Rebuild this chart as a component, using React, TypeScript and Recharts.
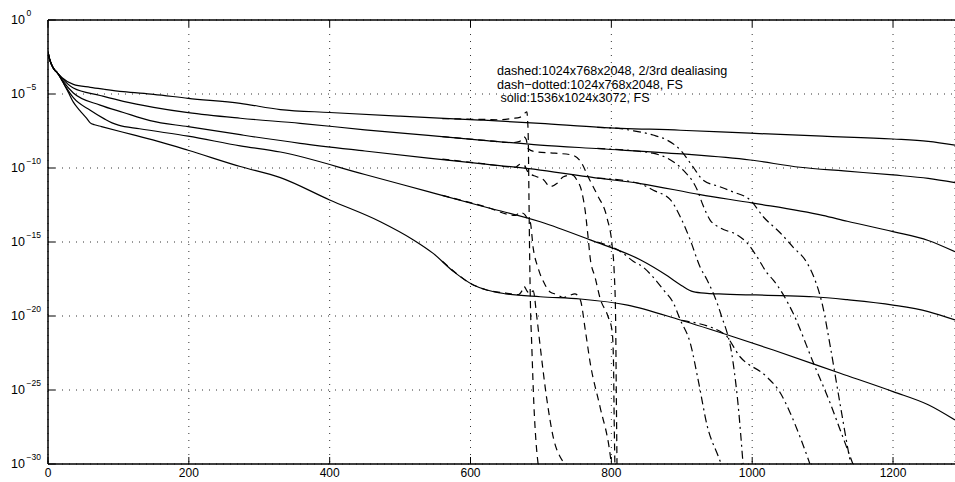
import { LineChart, Line, XAxis, YAxis, CartesianGrid, ReferenceLine } from 'recharts';

// x = wavenumber, y = log10 of the spectrum value
type Pt = [number, number];

const xTicks = [0, 200, 400, 600, 800, 1000, 1200];
const yTicks = [-30, -25, -20, -15, -10, -5, 0];

const legendLines = [
    'dashed:1024x768x2048, 2/3rd dealiasing',
    'dash\u2212dotted:1024x768x2048, FS',
    ' solid:1536x1024x3072, FS',
];

// solid: 1536x1024x3072, FS
const solidA: Pt[] = [
    [0, -2.15], [2, -2.6], [5, -3.0], [9, -3.35], [13, -3.55], [20, -3.9], [36, -4.35], [60, -4.55],
    [80, -4.68], [107, -4.84], [150, -5.02], [199, -5.29], [273, -5.63], [330, -6.05], [400, -6.25],
    [500, -6.5], [614, -6.76], [699, -6.98], [784, -7.25], [898, -7.45], [997, -7.65], [1100, -7.85],
    [1200, -8.04], [1250, -8.2], [1288, -8.45],
];
const solidB: Pt[] = [
    [0, -2.15], [2, -2.6], [5, -3.0], [9, -3.35], [13, -3.55], [20, -3.95], [36, -4.6], [74, -5.1],
    [107, -5.5], [150, -5.9], [199, -6.26], [273, -6.64], [358, -6.98], [450, -7.42], [540, -7.8],
    [614, -8.11], [699, -8.45], [784, -8.7], [900, -9.05], [997, -9.46], [1068, -9.95], [1130, -10.2],
    [1200, -10.47], [1250, -10.7], [1288, -10.99],
];
const solidC: Pt[] = [
    [0, -2.15], [2, -2.6], [5, -3.0], [9, -3.35], [13, -3.55], [20, -4.05], [36, -4.93], [74, -5.75],
    [107, -6.25], [145, -6.8], [199, -7.21], [273, -7.75], [358, -8.33], [450, -8.85], [540, -9.33],
    [614, -9.7], [699, -10.14], [784, -10.7], [841, -11.05], [926, -11.8], [1001, -12.37], [1100, -13.2],
    [1135, -13.6], [1200, -14.3], [1250, -14.9], [1288, -15.66],
];
const solidD: Pt[] = [
    [0, -2.15], [2, -2.6], [5, -3.0], [9, -3.35], [13, -3.55], [25, -4.5], [36, -5.25], [60, -6.1],
    [80, -6.68], [91, -6.95], [100, -7.1], [130, -7.35], [199, -7.85], [273, -8.5], [330, -8.92],
    [450, -10.44], [540, -11.6], [614, -12.55], [699, -13.63], [770, -14.86], [841, -16.2], [880, -17.3],
    [900, -17.95], [916, -18.35], [936, -18.47], [960, -18.52], [1040, -18.62], [1087, -18.7],
    [1135, -18.9], [1200, -19.26], [1250, -19.7], [1288, -20.27],
];
const solidE: Pt[] = [
    [0, -2.15], [2, -2.6], [5, -3.0], [9, -3.35], [13, -3.55], [20, -4.1], [29, -4.9], [36, -5.55],
    [45, -6.1], [55, -6.65], [60, -6.95], [66, -7.08], [76, -7.2], [120, -7.75], [160, -8.25],
    [199, -8.8], [273, -9.9], [330, -10.65], [400, -12.16], [472, -13.63], [519, -14.86], [547, -15.77],
    [576, -17.0], [604, -17.9], [623, -18.24], [650, -18.5], [699, -18.7], [756, -18.85], [823, -19.26],
    [898, -20.27], [973, -21.4], [1030, -22.3], [1125, -23.87], [1200, -25.11], [1250, -26.0], [1288, -27.03],
];

// dashed: 1024x768x2048, 2/3rd dealiasing
const dashedA: Pt[] = [
    [560, -6.66], [620, -6.72], [642, -6.74], [660, -6.65], [670, -6.58], [677, -6.3], [680, -6.2],
    [681, -6.7], [682, -8], [683, -12], [684, -16], [685, -19], [687, -22], [690, -26], [693, -28.5], [696, -30],
];
const dashedB: Pt[] = [
    [560, -7.88], [620, -8.13], [660, -8.28], [670, -8.2], [676, -7.9], [679, -8.05], [682, -8.7],
    [690, -8.88], [720, -9.0], [744, -9.12], [758, -9.68], [767, -10.59], [780, -11.82], [794, -13.4],
    [801, -15.2], [804, -17], [806, -20], [807, -25], [808, -30],
];
const dashedC: Pt[] = [
    [560, -9.4], [620, -9.72], [664, -9.95], [670, -9.75], [676, -9.8], [682, -10.3], [694, -10.59],
    [704, -10.81], [713, -11.26], [723, -11.03], [732, -10.59], [744, -10.47], [751, -10.81], [758, -11.6],
    [763, -12.95], [767, -14.7], [770, -16.1], [777, -17.4], [784, -18.8], [795, -20], [801, -21],
    [803, -23], [804, -27], [805, -30],
];
const dashedD: Pt[] = [
    [560, -11.85], [620, -12.6], [664, -13.2], [670, -13.0], [676, -13.1], [682, -13.5], [685, -13.7],
    [689, -15.4], [696, -16.76], [706, -17.9], [713, -18.38], [723, -18.55], [732, -18.75], [741, -18.6],
    [748, -18.5], [756, -18.92], [763, -20.95], [770, -23.18], [784, -26.15], [798, -29.26], [800, -30],
];
const dashedE: Pt[] = [
    [560, -16.3], [604, -17.9], [623, -18.24], [650, -18.45], [668, -18.55], [673, -18.3], [676, -18.0],
    [680, -18.3], [684, -18.5], [689, -18.3], [694, -20], [699, -22.07], [708, -25.5], [718, -28.3],
    [727, -29.5], [735, -30],
];

// dash-dotted: 1024x768x2048, FS
const dashDotA: Pt[] = [
    [780, -7.26], [810, -7.32], [827, -7.45], [859, -7.77], [879, -8.11], [898, -8.78], [916, -9.93],
    [930, -10.81], [955, -11.28], [973, -11.62], [997, -12.16], [1016, -13.31], [1040, -14.39],
    [1058, -15.34], [1078, -16.42], [1087, -17.3], [1100, -19.3], [1111, -22.09], [1125, -26],
    [1137, -29.26], [1140, -30],
];
const dashDotB: Pt[] = [
    [780, -8.68], [840, -8.88], [859, -9.0], [884, -9.46], [902, -10.14], [922, -11.49], [930, -12.5],
    [940, -13.5], [955, -14.05], [979, -14.53], [993, -15.07], [1007, -16.01], [1021, -17.09],
    [1030, -17.57], [1058, -19.8], [1087, -23.18], [1110, -25.8], [1125, -27.7], [1143, -30],
];
const dashDotC: Pt[] = [
    [780, -10.68], [840, -11.05], [859, -11.49], [884, -12.16], [898, -13.31], [912, -14.86],
    [926, -16.69], [936, -17.57], [955, -19.8], [973, -23.18], [980, -26], [987, -30],
];
const dashDotD: Pt[] = [
    [780, -15.0], [815, -15.7], [831, -16.3], [845, -16.69], [859, -17.36], [874, -18.24], [888, -19.12],
    [898, -20.27], [912, -21.82], [924, -24.5], [936, -27.4], [952, -29.5], [956, -30],
];
const dashDotE: Pt[] = [
    [900, -20.3], [960, -21.2], [983, -22.77], [1021, -24.12], [1040, -25.2], [1054, -26.55],
    [1068, -28.18], [1080, -29.73], [1082, -30],
];

const DASH = '7 5';
const DASH_DOT = '8 4 2 4';

const series = [
    { name: 'solidA', pts: solidA, dash: undefined },
    { name: 'solidB', pts: solidB, dash: undefined },
    { name: 'solidC', pts: solidC, dash: undefined },
    { name: 'solidD', pts: solidD, dash: undefined },
    { name: 'solidE', pts: solidE, dash: undefined },
    { name: 'dashedA', pts: dashedA, dash: DASH },
    { name: 'dashedB', pts: dashedB, dash: DASH },
    { name: 'dashedC', pts: dashedC, dash: DASH },
    { name: 'dashedD', pts: dashedD, dash: DASH },
    { name: 'dashedE', pts: dashedE, dash: DASH },
    { name: 'dashDotA', pts: dashDotA, dash: DASH_DOT },
    { name: 'dashDotB', pts: dashDotB, dash: DASH_DOT },
    { name: 'dashDotC', pts: dashDotC, dash: DASH_DOT },
    { name: 'dashDotD', pts: dashDotD, dash: DASH_DOT },
    { name: 'dashDotE', pts: dashDotE, dash: DASH_DOT },
];

const FONT = '"Liberation Sans", Arial, Helvetica, sans-serif';
const PLOT_LEFT = 48;
const PLOT_TOP = 20;
const PLOT_BOTTOM = 464;

const toRows = (pts: Pt[]) => pts.map(([x, y]) => ({ x, y }));

const YTick = (props: any) => {
    const { y, payload } = props;
    const exp = payload.value === 0 ? '0' : '\u2212' + Math.abs(payload.value);
    return (
        <g>
            <line x1={PLOT_LEFT} x2={PLOT_LEFT + 7} y1={y} y2={y} stroke="#000" />
            <text x={25} y={y + 4.3} textAnchor="end" fontSize={12.5} fontFamily={FONT} fill="#000">10</text>
            <text x={26.5} y={y - 3.8} textAnchor="start" fontSize={8.5} fontFamily={FONT} fill="#000">{exp}</text>
        </g>
    );
};

const XTick = (props: any) => {
    const { x, payload } = props;
    return (
        <g>
            <line x1={x} x2={x} y1={PLOT_BOTTOM} y2={PLOT_BOTTOM - 7} stroke="#000" />
            <line x1={x} x2={x} y1={PLOT_TOP} y2={PLOT_TOP + 7} stroke="#000" />
            <text x={x} y={477} textAnchor="middle" fontSize={12} fontFamily={FONT} fill="#000">{payload.value}</text>
        </g>
    );
};

export default function App() {
    return (
        <div style={{ position: 'relative', width: 955, height: 482, background: '#fff' }}>
            <style>{`body { margin: 0; }`}</style>
            <LineChart width={955} height={482} margin={{ top: PLOT_TOP, right: 0, bottom: 0, left: 0 }}>
                <CartesianGrid stroke="#333" strokeDasharray="1 6" />
                <XAxis
                    type="number"
                    dataKey="x"
                    domain={[0, 1288]}
                    ticks={xTicks}
                    interval={0}
                    allowDataOverflow
                    height={18}
                    tickLine={false}
                    axisLine={{ stroke: '#000', strokeWidth: 1.5 }}
                    tick={<XTick />}
                />
                <YAxis
                    type="number"
                    dataKey="y"
                    domain={[-30, 0]}
                    ticks={yTicks}
                    interval={0}
                    allowDataOverflow
                    width={PLOT_LEFT}
                    tickLine={false}
                    axisLine={{ stroke: '#000', strokeWidth: 1.5 }}
                    tick={<YTick />}
                />
                <ReferenceLine y={0} stroke="#000" strokeWidth={1.5} />
                {series.map(s => (
                    <Line
                        key={s.name}
                        data={toRows(s.pts)}
                        dataKey="y"
                        type="monotone"
                        stroke="#000"
                        strokeWidth={1.2}
                        strokeDasharray={s.dash}
                        dot={false}
                        activeDot={false}
                        isAnimationActive={false}
                    />
                ))}
            </LineChart>
            <svg width={955} height={482} style={{ position: 'absolute', left: 0, top: 0, pointerEvents: 'none' }}>
                {legendLines.map((t, i) => (
                    <text key={i} x={497} y={75 + i * 13.5} fontSize={12.6} fontFamily={FONT} fill="#000" style={{ whiteSpace: 'pre' }}>
                        {t}
                    </text>
                ))}
            </svg>
        </div>
    );
}
